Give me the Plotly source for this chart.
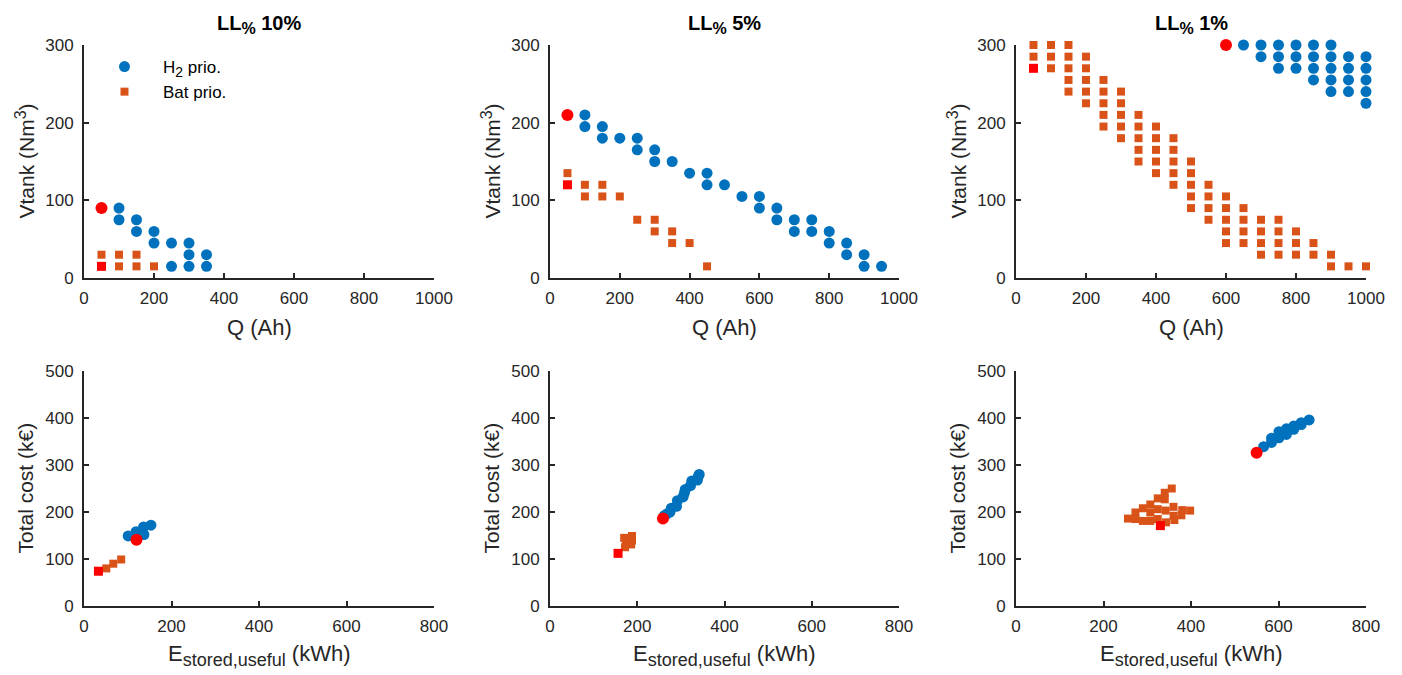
import plotly.graph_objects as go

W, H = 1402, 675
BLUE = "#0072BD"
ORANGE = "#D95319"
RED = "#FF0000"
AX = "#262626"
FONT = "Liberation Sans, Arial, Helvetica, sans-serif"

# ---------------- data ----------------
titles = ["LL<sub><span style='font-size:16px'>%</span></sub> 10%",
          "LL<sub><span style='font-size:16px'>%</span></sub> 5%",
          "LL<sub><span style='font-size:16px'>%</span></sub> 1%"]
top_xtitle = "Q (Ah)"
top_ytitle = "Vtank (Nm<sup><span style='font-size:16px'>3</span></sup>)"
bot_xtitle = "E<sub><span style='font-size:18px'>stored,useful</span></sub> (kWh)"
bot_ytitle = "Total cost (k€)"
legend_h2 = "H<sub><span style='font-size:14px'>2</span></sub> prio."
legend_bat = "Bat prio."

# Top row: Q (Ah) vs Vtank (Nm3)
p1_h2_q = [100, 100, 150, 150, 200, 200, 250, 300, 300, 350, 250, 300, 350]
p1_h2_v = [90, 75, 75, 60, 60, 45, 45, 45, 30, 30, 15, 15, 15]
p1_bat_q = [50, 100, 150, 100, 150, 200]
p1_bat_v = [30, 30, 30, 15, 15, 15]
p1_best_h2 = ([50], [90])
p1_best_bat = ([50], [15])

p2_h2_q = [100, 100, 150, 150, 200, 250, 250, 300, 300, 350, 400, 450, 450, 500, 550,
           600, 600, 650, 650, 700, 750, 700, 750, 800, 800, 850, 850, 900, 900, 950]
p2_h2_v = [210, 195, 195, 180, 180, 180, 165, 165, 150, 150, 135, 135, 120, 120, 105,
           105, 90, 90, 75, 75, 75, 60, 60, 60, 45, 45, 30, 30, 15, 15]
p2_bat_q = [50, 100, 150, 100, 150, 200, 250, 300, 300, 350, 350, 400, 450]
p2_bat_v = [135, 120, 120, 105, 105, 105, 75, 75, 60, 60, 45, 45, 15]
p2_best_h2 = ([50], [210])
p2_best_bat = ([50], [120])

p3_h2_q = [650, 700, 750, 800, 850, 900,
           700, 750, 800, 850, 900, 950, 1000,
           750, 800, 850, 900, 950, 1000,
           850, 900, 950, 1000,
           900, 950, 1000,
           1000]
p3_h2_v = [300] * 6 + [285] * 7 + [270] * 6 + [255] * 4 + [240] * 3 + [225]
p3_bat_q = [50, 100, 150,
            50, 100, 150, 200,
            100, 150, 200,
            150, 200, 250,
            150, 200, 250, 300,
            200, 250, 300,
            250, 300, 350,
            250, 300, 350, 400,
            300, 350, 400, 450,
            350, 400, 450,
            350, 400, 450, 500,
            400, 450, 500,
            450, 500, 550,
            500, 550, 600,
            500, 550, 600, 650,
            550, 600, 650, 700, 750,
            600, 650, 700, 750, 800,
            600, 650, 700, 750, 800, 850,
            700, 750, 800, 850, 900,
            900, 950, 1000]
p3_bat_v = ([300] * 3 + [285] * 4 + [270] * 3 + [255] * 3 + [240] * 4 + [225] * 3 +
            [210] * 3 + [195] * 4 + [180] * 4 + [165] * 3 + [150] * 4 + [135] * 3 +
            [120] * 3 + [105] * 3 + [90] * 4 + [75] * 5 + [60] * 5 + [45] * 6 +
            [30] * 5 + [15] * 3)
p3_best_h2 = ([600], [300])
p3_best_bat = ([50], [270])

# Bottom row: E_stored,useful (kWh) vs Total cost (k€)
p4_h2_e = [101, 119, 120, 136, 137, 153]
p4_h2_c = [149, 158, 153, 168, 152, 172]
p4_bat_e = [51, 67, 85]
p4_bat_c = [80, 90, 99]
p4_best_h2 = ([120], [141])
p4_best_bat = ([33], [74])

p5_h2_e = [262, 268, 275, 278, 290, 292, 305, 308, 310, 322, 325, 338, 340, 342]
p5_h2_c = [192, 196, 200, 208, 212, 224, 232, 240, 248, 256, 266, 268, 276, 280]
p5_bat_e = [170, 172, 174, 188, 188, 186]
p5_bat_c = [145, 125, 134, 149, 139, 131]
p5_best_h2 = ([259], [186])
p5_best_bat = ([156], [112])

p6_h2_e = [566, 584, 584, 601, 601, 618, 618, 635, 635, 652, 652, 670]
p6_h2_c = [339, 348, 357, 358, 371, 365, 377, 376, 383, 386, 390, 396]
p6_bat_e = [256, 273, 273, 290, 290, 307, 307, 307, 324, 324, 324, 340, 340, 342,
            343, 356, 360, 360, 362, 380, 378, 398]
p6_bat_c = [186, 199, 185, 208, 181, 216, 199, 181, 229, 206, 185, 241, 227, 203,
            178, 250, 211, 192, 183, 204, 193, 203]
p6_best_h2 = ([550], [326])
p6_best_bat = ([330], [171])

top_xticks = [0, 200, 400, 600, 800, 1000]
top_yticks = [0, 100, 200, 300]
bot_xticks = [0, 200, 400, 600, 800]
bot_yticks = [0, 100, 200, 300, 400, 500]

panels = [
    (p1_h2_q, p1_h2_v, p1_bat_q, p1_bat_v, p1_best_h2, p1_best_bat),
    (p2_h2_q, p2_h2_v, p2_bat_q, p2_bat_v, p2_best_h2, p2_best_bat),
    (p3_h2_q, p3_h2_v, p3_bat_q, p3_bat_v, p3_best_h2, p3_best_bat),
    (p4_h2_e, p4_h2_c, p4_bat_e, p4_bat_c, p4_best_h2, p4_best_bat),
    (p5_h2_e, p5_h2_c, p5_bat_e, p5_bat_c, p5_best_h2, p5_best_bat),
    (p6_h2_e, p6_h2_c, p6_bat_e, p6_bat_c, p6_best_h2, p6_best_bat),
]

# ---------------- layout geometry (pixels) ----------------
col_px = [(84, 434), (550, 899), (1016, 1366)]
row_px = [(45, 278), (371, 606)]


def xdom(a, b):
    return [a / W, b / W]


def ydom(top, bottom):
    return [1 - bottom / H, 1 - top / H]


fig = go.Figure()

for i, (hx, hy, bx, by, bh, bb) in enumerate(panels):
    n = i + 1
    xa = "x" if n == 1 else f"x{n}"
    ya = "y" if n == 1 else f"y{n}"
    fig.add_trace(go.Scatter(x=hx, y=hy, mode="markers", name=legend_h2,
                             legendgroup="h2",
                             marker=dict(symbol="circle", size=11, color=BLUE),
                             xaxis=xa, yaxis=ya, showlegend=(n == 1), cliponaxis=False))
    fig.add_trace(go.Scatter(x=bx, y=by, mode="markers", name=legend_bat,
                             legendgroup="bat",
                             marker=dict(symbol="square", size=8, color=ORANGE),
                             xaxis=xa, yaxis=ya, showlegend=(n == 1), cliponaxis=False))
    fig.add_trace(go.Scatter(x=bh[0], y=bh[1], mode="markers", name="best H2",
                             marker=dict(symbol="circle", size=12, color=RED),
                             xaxis=xa, yaxis=ya, showlegend=False, cliponaxis=False))
    fig.add_trace(go.Scatter(x=bb[0], y=bb[1], mode="markers", name="best Bat",
                             marker=dict(symbol="square", size=9, color=RED),
                             xaxis=xa, yaxis=ya, showlegend=False, cliponaxis=False))

axis_common = dict(ticks="inside", ticklen=5, tickwidth=1.5, tickcolor=AX,
                   showline=True, linecolor=AX, linewidth=2, mirror=False,
                   showgrid=False, zeroline=False, automargin=False,
                   tickfont=dict(size=17, color=AX, family=FONT))

layout = dict()
annotations = []
for i in range(6):
    n = i + 1
    r, c = divmod(i, 3)
    xkey = "xaxis" if n == 1 else f"xaxis{n}"
    ykey = "yaxis" if n == 1 else f"yaxis{n}"
    xa = "x" if n == 1 else f"x{n}"
    ya = "y" if n == 1 else f"y{n}"
    if r == 0:
        xr, xt, yr, yt = [0, 1000], top_xticks, [0, 300], top_yticks
        xtitle, ytitle = top_xtitle, top_ytitle
    else:
        xr, xt, yr, yt = [0, 800], bot_xticks, [0, 500], bot_yticks
        xtitle, ytitle = bot_xtitle, bot_ytitle
    layout[xkey] = dict(axis_common, domain=xdom(*col_px[c]), range=xr, tickvals=xt,
                        anchor=ya, ticklabelstandoff=4)
    layout[ykey] = dict(axis_common, domain=ydom(*row_px[r]), range=yr, tickvals=yt,
                        anchor=xa, ticklabelstandoff=5)
    a, b = col_px[c]
    top, bottom = row_px[r]
    # x-axis title
    annotations.append(dict(text=xtitle, x=(a + b) / 2 / W, y=1 - (bottom + 49) / H,
                            xref="paper", yref="paper", xanchor="center", yanchor="middle",
                            showarrow=False, font=dict(size=22, color=AX, family=FONT)))
    # y-axis title
    annotations.append(dict(text=ytitle, x=(a - 59) / W, y=1 - (top + bottom) / 2 / H,
                            xref="paper", yref="paper", xanchor="center", yanchor="middle",
                            textangle=-90, showarrow=False,
                            font=dict(size=21, color=AX, family=FONT)))

for c, t in enumerate(titles):
    a, b = col_px[c]
    annotations.append(dict(text=f"<b>{t}</b>", x=(a + b) / 2 / W, y=1 - 24 / H,
                            xref="paper", yref="paper", xanchor="center", yanchor="middle",
                            showarrow=False, font=dict(size=20, color="#000000", family=FONT)))

fig.update_layout(
    width=W, height=H,
    margin=dict(l=0, r=0, t=0, b=0),
    paper_bgcolor="white", plot_bgcolor="white",
    font=dict(family=FONT, color=AX),
    annotations=annotations,
    legend=dict(x=86 / W, y=1 - 49 / H, xanchor="left", yanchor="top",
                bgcolor="rgba(0,0,0,0)", font=dict(size=17, color="#000000", family=FONT),
                itemwidth=67, tracegroupgap=0),
    **layout,
)

fig.write_html("out.html")
